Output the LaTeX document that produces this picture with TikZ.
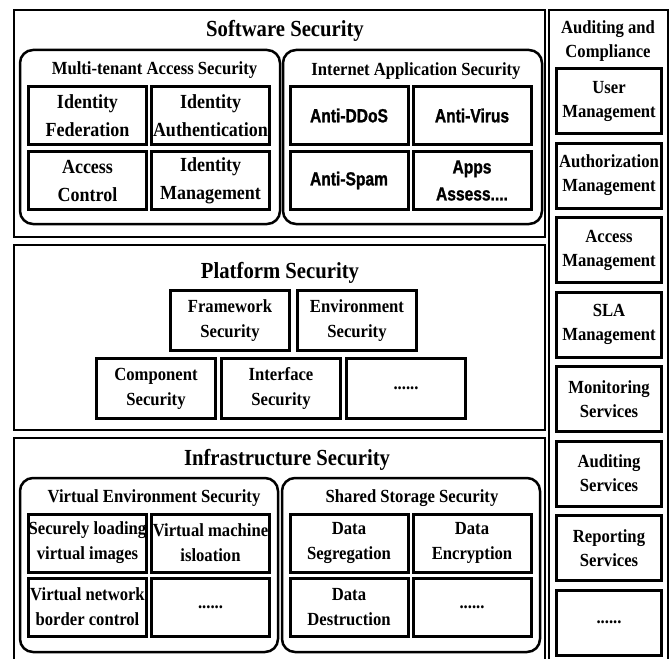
\documentclass[tikz,border=0pt]{standalone}
\usepackage{fontspec}
\setmainfont[FakeStretch=0.9]{Liberation Serif}
\newfontfamily\arialbf[FakeStretch=0.82, FakeBold=1.2]{Liberation Sans Bold}
\usepackage{tikz}
\usetikzlibrary{positioning}

\begin{document}
\begin{tikzpicture}[x=1pt, y=-1pt, % Cloud security layers
    frame/.style={line width=2pt},
    group/.style={line width=2.5pt, rounded corners=13pt},
    heading/.style={anchor=base, font=\fontsize{23}{28}\selectfont\bfseries},
    subhead/.style={anchor=base, font=\fontsize{18.5}{24}\selectfont\bfseries},
    cell/.style={draw, line width=3pt, minimum width=118pt, minimum height=58pt,
        inner sep=0pt, align=center, font=\fontsize{20}{28}\selectfont\bfseries},
    webcell/.style={cell, font=\fontsize{19}{27}\selectfont\arialbf},
    pcell/.style={cell, minimum width=119pt, minimum height=60pt,
        font=\fontsize{18.5}{25}\selectfont\bfseries},
    icell/.style={cell, font=\fontsize{18.5}{25}\selectfont\bfseries},
    sidecell/.style={cell, minimum width=105pt, minimum height=65pt,
        font=\fontsize{18.5}{24}\selectfont\bfseries}]

  \useasboundingbox (0,0) rectangle (671,658);

  % outer frames
  \draw [frame] (14,10) rectangle (545,237);
  \draw [frame] (14,245) rectangle (545,430);
  \draw [frame] (14,438) rectangle (545,660);
  \draw [frame] (549,10) rectangle (668,660);

  % software layer
  \node [heading] (sw) at (285,37) {Software Security};
  \draw [group] (20,50) rectangle (280,224);
  \draw [group] (283,50) rectangle (542,224);
  \node [subhead] (mtas) at (154.5,75) {Multi-tenant Access Security};
  \node [subhead] (ias) at (416,76) {Internet Application Security};

  \node [cell] (fed) at (87.5,115.5) {Identity\\Federation};
  \node [cell, right=2pt of fed] (auth) {Identity\\Authentication};
  \node [cell, below=4pt of fed] (acc) {Access\\Control};
  \node [cell, right=2pt of acc] (idm) {Identity\\Management};

  \node [webcell] (ddos) at (349,115.5) {Anti-DDoS};
  \node [webcell, right=2pt of ddos] (virus) {Anti-Virus};
  \node [webcell, below=4pt of ddos] (spam) {Anti-Spam};
  \node [webcell, right=2pt of spam] (apps) {Apps\\Assess....};

  % platform layer
  \node [heading] (pf) at (280,278) {Platform Security};
  \node [pcell] (fw) at (230,320.5) {Framework\\Security};
  \node [pcell, right=5pt of fw] (env) {Environment\\Security};
  \node [pcell] (comp) at (156,388.5) {Component\\Security};
  \node [pcell, right=3pt of comp] (intf) {Interface\\Security};
  \node [pcell, right=3pt of intf] (pmore) {......};

  % infrastructure layer
  \node [heading] (inf) at (287,465) {Infrastructure Security};
  \draw [group] (20,478) rectangle (278,652);
  \draw [group] (282,478) rectangle (540,652);
  \node [subhead] (ves) at (154,502) {Virtual Environment Security};
  \node [subhead] (sss) at (412,502) {Shared Storage Security};

  \node [icell] (vimg) at (87.5,543) {Securely loading\\virtual images};
  \node [icell, right=2pt of vimg] (viso) {Virtual machine\\isloation};
  \node [icell, below=3pt of vimg] (vnet) {Virtual network\\border control};
  \node [icell, right=2pt of vnet] (vmore) {......};

  \node [icell] (seg) at (349,543) {Data\\Segregation};
  \node [icell, right=2pt of seg] (enc) {Data\\Encryption};
  \node [icell, below=3pt of seg] (des) {Data\\Destruction};
  \node [icell, right=2pt of des] (smore) {......};

  % auditing column
  \node [subhead, anchor=center, align=center] (audit) at (608,41) {Auditing and\\Compliance};
  \node [sidecell] (user) at (609,101) {User\\Management};
  \node [sidecell, below=6.5pt of user] (authz) {Authorization\\Management};
  \node [sidecell, below=6.5pt of authz] (accm) {Access\\Management};
  \node [sidecell, below=6.5pt of accm] (sla) {SLA\\Management};
  \node [sidecell, below=6.5pt of sla] (mon) {Monitoring\\Services};
  \node [sidecell, below=6.5pt of mon] (aud) {Auditing\\Services};
  \node [sidecell, below=6.5pt of aud] (rep) {Reporting\\Services};
  \node [sidecell, below=6.5pt of rep] (amore) {......};

\end{tikzpicture}
\end{document}
